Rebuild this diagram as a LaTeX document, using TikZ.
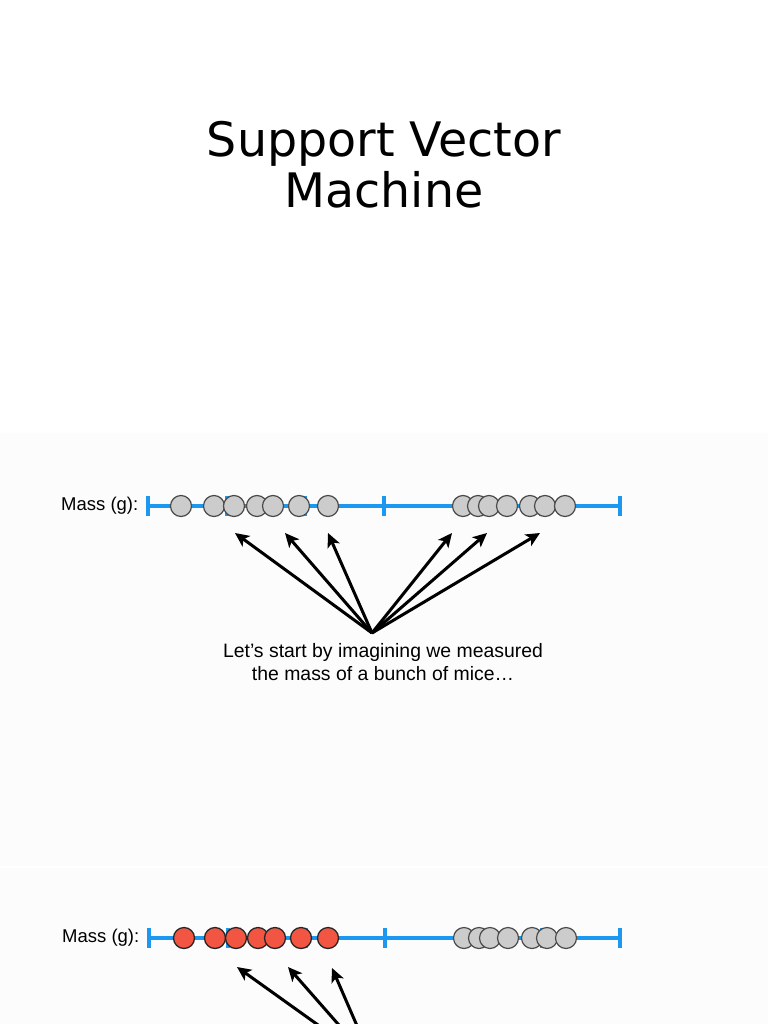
\documentclass[tikz,border=0pt]{standalone}
\usepackage{fontspec}
\setmainfont{Liberation Sans}
\newfontfamily\titlefont{DejaVu Sans}
\usetikzlibrary{arrows.meta}
\definecolor{axisblue}{RGB}{28,152,240}
\definecolor{dotgray}{RGB}{204,204,204}
\definecolor{dotedge}{RGB}{75,75,75}
\definecolor{dotred}{RGB}{242,86,66}
\definecolor{slidebg}{RGB}{252,252,252}
\tikzset{
  axisline/.style={draw=axisblue, line width=3.4pt},
  tickmark/.style={draw=axisblue, line width=3.2pt},
  graydot/.style={circle, minimum size=21pt, inner sep=0pt, fill=dotgray, draw=dotedge, line width=1.2pt},
  reddot/.style={circle, minimum size=21pt, inner sep=0pt, fill=dotred, draw=black!85, line width=1.3pt},
  pointer/.style={draw=black, line width=3pt, -{Stealth[length=14pt,width=13pt,inset=3.5pt]}},
  masslabel/.style={anchor=base west, inner sep=0pt, font=\fontsize{18.5}{22}\selectfont},
  caption/.style={anchor=base, inner sep=0pt, font=\fontsize{19.4}{23}\selectfont},
  titletext/.style={anchor=base, inner sep=0pt, font=\titlefont\fontsize{47.5}{51}\selectfont}
}
\begin{document}
\begin{tikzpicture}[x=1pt,y=-1pt]
\useasboundingbox (0,0) rectangle (768,1024);
\clip (0,0) rectangle (768,1024);
\fill[white] (0,0) rectangle (768,1024);
\fill[slidebg] (0,433) rectangle (768,866);
\fill[slidebg] (0,868) rectangle (768,1024);

% title
\node[titletext] (t1) at (384,157) {Support Vector};
\node[titletext] (t2) at (384,208) {Machine};

% ---------- slide 1 ----------
\node[masslabel] (m1) at (61,510) {Mass (g):};
\coordinate (a1s) at (148,506);
\coordinate (a1e) at (620,506);
\draw[axisline] (a1s) -- (a1e);
\foreach \x in {148,227,305,384,463,541,620}
  \draw[tickmark] (\x,496) -- (\x,516);
\foreach \x [count=\i] in {181,214,234,257,273,299,328}
  \node[graydot] (p\i) at (\x,506) {};
\foreach \x [count=\i] in {463,478,489,507,530,545,565}
  \node[graydot] (q\i) at (\x,506) {};

\coordinate (src1) at (372,633);
\foreach \x [count=\i] in {235,285,328,452,487,540}
  \coordinate (tip\i) at (\x,533);
\foreach \i in {1,...,6}
  \draw[pointer] (src1) -- (tip\i);

\node[caption] (c1) at (383,657) {Let’s start by imagining we measured};
\node[caption] (c2) at (383,680) {the mass of a bunch of mice…};

% ---------- slide 2 ----------
\node[masslabel] (m2) at (62,942) {Mass (g):};
\coordinate (b1s) at (149,938);
\coordinate (b1e) at (620,938);
\draw[axisline] (b1s) -- (b1e);
\foreach \x in {149,228,306,385,464,542,620}
  \draw[tickmark] (\x,928) -- (\x,948);
\foreach \x [count=\i] in {184,215,236,258,275,301,328}
  \node[reddot] (r\i) at (\x,938) {};
\foreach \x [count=\i] in {464,479,490,508,532,547,566}
  \node[graydot] (s\i) at (\x,938) {};

\coordinate (src2) at (374,1065);
\coordinate (utip1) at (237,967);
\coordinate (utip2) at (288,967);
\coordinate (utip3) at (332,968);
\foreach \i in {1,2,3}
  \draw[pointer] (src2) -- (utip\i);
\end{tikzpicture}
\end{document}
